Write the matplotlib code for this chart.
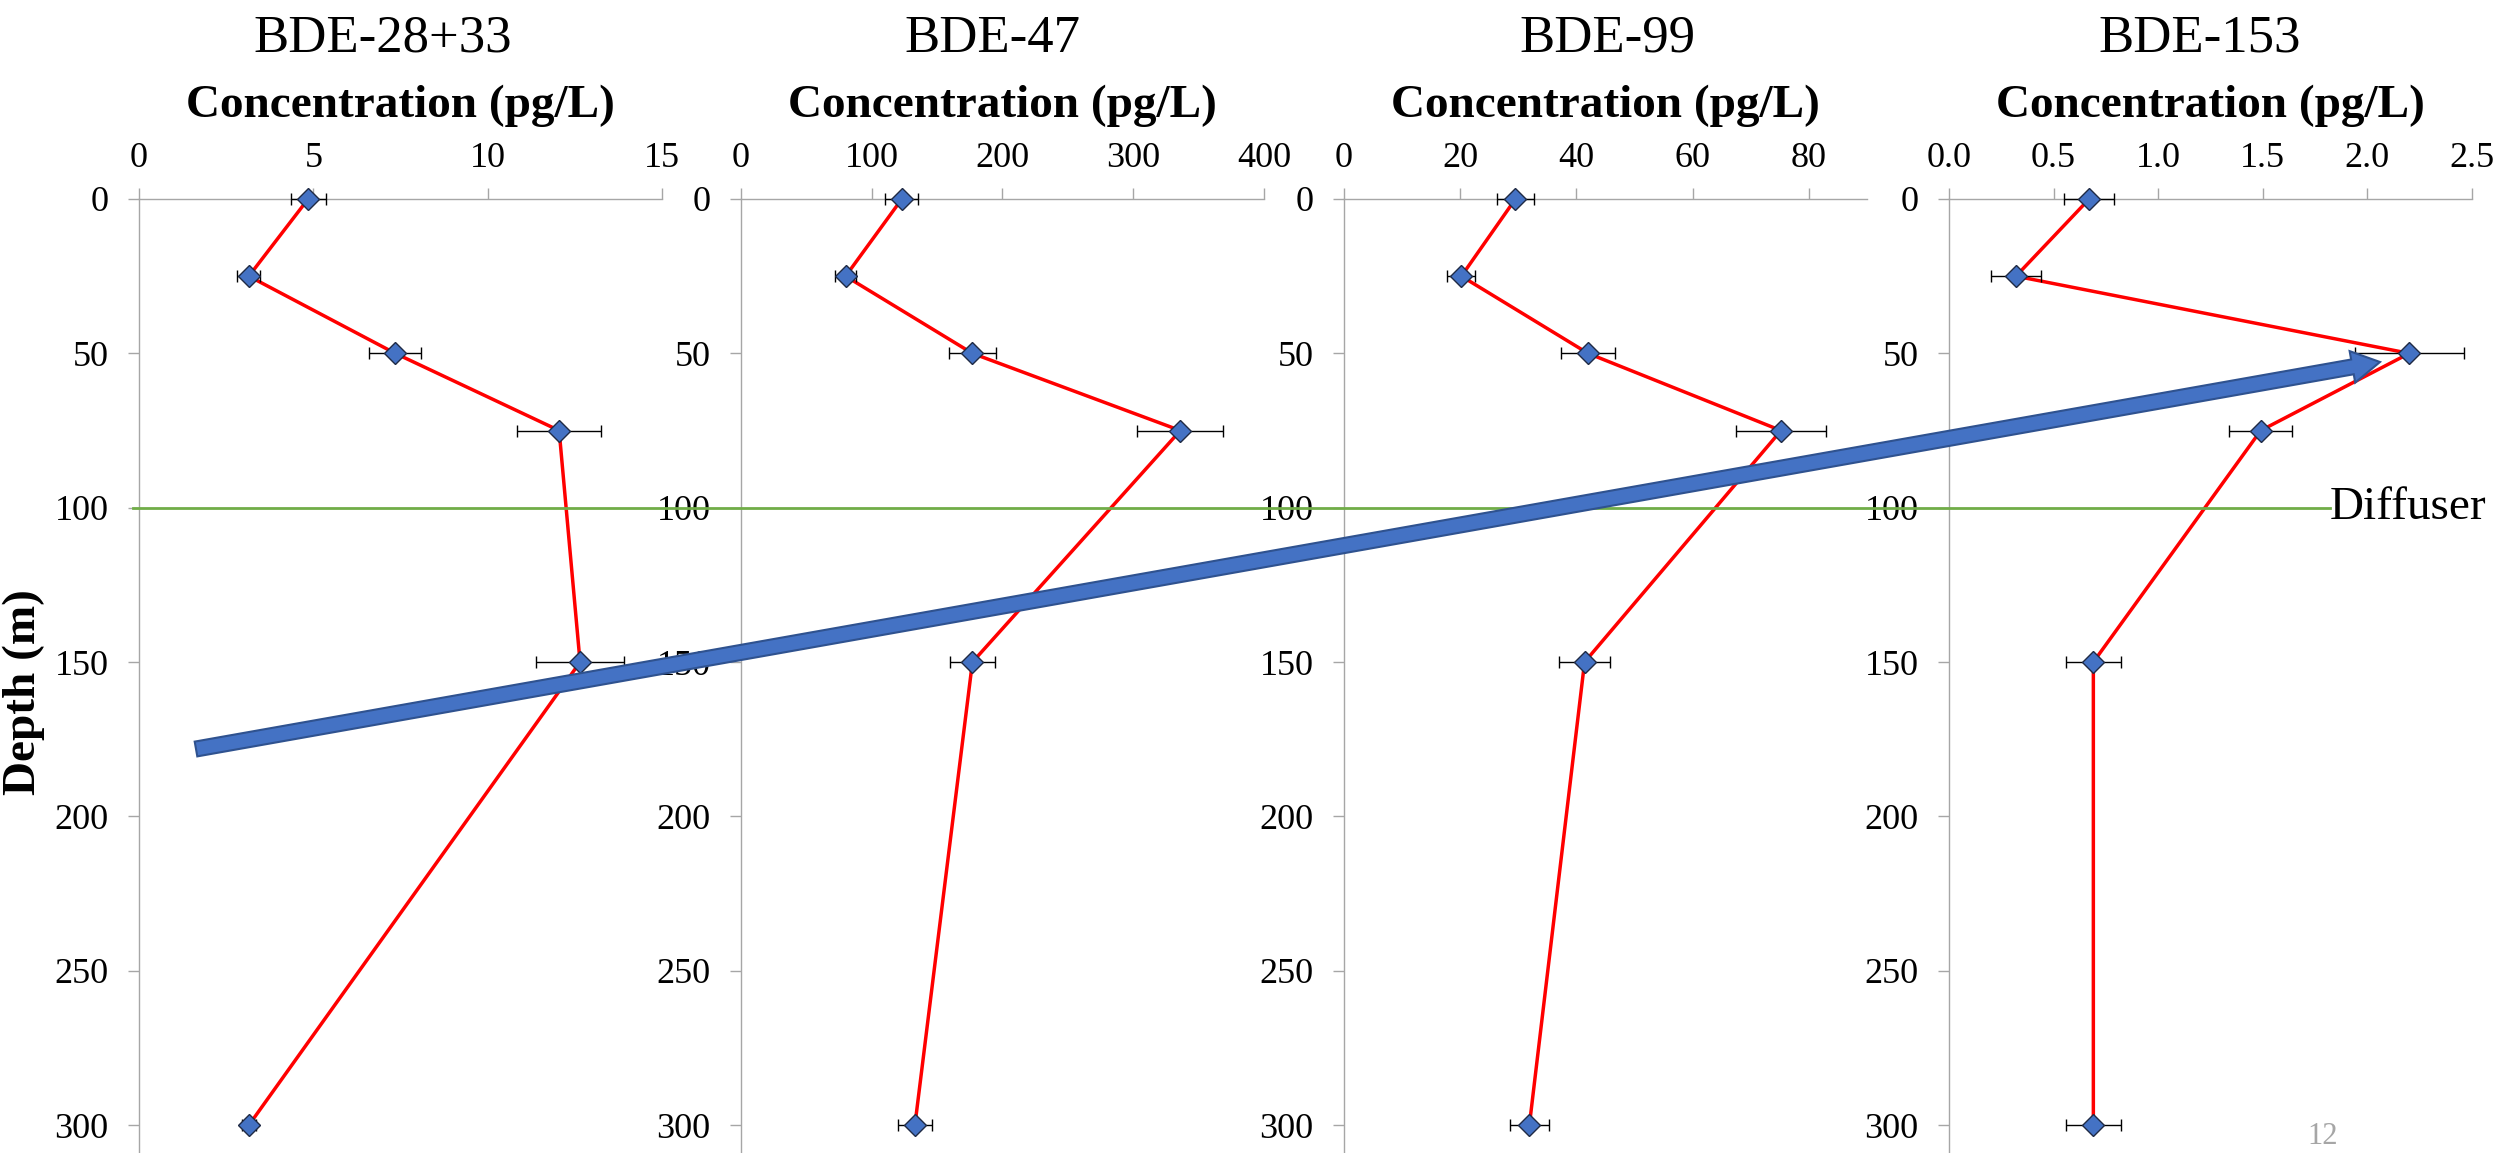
import matplotlib
matplotlib.use('Agg')
import matplotlib.pyplot as plt
from matplotlib.patches import FancyArrow
from matplotlib.transforms import blended_transform_factory

plt.rcParams['font.family'] = ['Liberation Serif', 'DejaVu Serif']

# data
depth = [0, 25, 50, 75, 150, 300]
titles = ['BDE-28+33', 'BDE-47', 'BDE-99', 'BDE-153']

bde28_33 = [4.85, 3.15, 7.35, 12.05, 12.65, 3.15]
bde28_33_err = [0.5, 0.33, 0.75, 1.2, 1.25, 0.2]
bde47 = [123, 80, 177, 336, 177, 133]
bde47_err = [12.5, 8, 18, 33, 17, 13]
bde99 = [29.5, 20.2, 42.0, 75.2, 41.4, 31.9]
bde99_err = [3.2, 2.4, 4.6, 7.7, 4.4, 3.4]
bde153 = [0.67, 0.32, 2.2, 1.49, 0.69, 0.69]
bde153_err = [0.12, 0.12, 0.26, 0.15, 0.13, 0.13]

x_max = [15, 400, 90, 2.5]
x_ticks = [[0, 5, 10, 15], [0, 100, 200, 300, 400],
           [0, 20, 40, 60, 80], [0, 0.5, 1.0, 1.5, 2.0, 2.5]]
y_ticks = [0, 50, 100, 150, 200, 250, 300]
diffuser_depth = 100

series = [(bde28_33, bde28_33_err), (bde47, bde47_err),
          (bde99, bde99_err), (bde153, bde153_err)]

# layout (figure pixels, measured from top-left)
W, H = 2509, 1153
panel_left = [139, 741, 1344, 1949]
panel_w = 523
panel_top = 199
title_x = [383, 992, 1607, 2200]

fig = plt.figure(figsize=(W / 100, H / 100), dpi=100)
fig.patch.set_facecolor('white')

axes = []
for i, (vals, errs) in enumerate(series):
    ax = fig.add_axes([panel_left[i] / W, 0, panel_w / W, (H - panel_top) / H])
    ax.plot(vals, depth, color='red', lw=2.5, zorder=2, clip_on=False)
    ax.errorbar(vals, depth, xerr=errs, fmt='none', ecolor='black',
                elinewidth=1, capsize=4.5, capthick=1, zorder=3, clip_on=False)
    ax.plot(vals, depth, 'D', ms=11, mfc='#4472C4', mec='#1F2A44', mew=1,
            zorder=4, clip_on=False)
    ax.set_xlim(0, x_max[i])
    ax.set_ylim(309, 0)
    ax.set_xticks(x_ticks[i])
    if i == 3:
        ax.set_xticklabels(['%.1f' % t for t in x_ticks[i]])
    ax.set_yticks(y_ticks)
    ax.xaxis.tick_top()
    for s in ['right', 'bottom']:
        ax.spines[s].set_visible(False)
    for s in ['top', 'left']:
        ax.spines[s].set_color('#A6A6A6')
        ax.spines[s].set_linewidth(1)
    ax.tick_params(axis='x', direction='out', length=8, width=1,
                   color='#A6A6A6', labelsize=26, pad=9)
    ax.tick_params(axis='y', direction='out', length=8, width=1,
                   color='#A6A6A6', labelsize=26, pad=14)
    ax.patch.set_alpha(0)
    axes.append(ax)

    cx = (panel_left[i] + panel_w / 2) / W
    fig.text(cx, 1 - 117 / H, 'Concentration (pg/L)', fontsize=34,
             fontweight='bold', ha='center', va='baseline')
    fig.text(title_x[i] / W, 1 - 52 / H, titles[i], fontsize=38,
             ha='center', va='baseline')

fig.text(24 / W, 1 - 692 / H, 'Depth (m)', fontsize=34, fontweight='bold',
         rotation=90, ha='center', va='center')

# overlay in pixel units for the annotation shapes
ov = fig.add_axes([0, 0, 1, 1], zorder=10)
ov.set_xlim(0, W)
ov.set_ylim(H, 0)
ov.axis('off')
ov.patch.set_alpha(0)

# diffuser line across all panels
tr = blended_transform_factory(ov.transData, axes[0].transData)
ov.plot([133, 2330], [diffuser_depth, diffuser_depth], color='#70AD47',
        lw=2, transform=tr, zorder=1)
ov.text(2330, diffuser_depth, 'Diffuser', fontsize=34, ha='left',
        va='center', transform=tr)

# big blue arrow
arrow = FancyArrow(196, 749, 2184, -387, width=15, head_width=32,
                   head_length=28, length_includes_head=True,
                   fc='#4472C4', ec='#2F528F', lw=1.5, zorder=5)
ov.add_patch(arrow)

# page number
fig.text(2323 / W, 1 - 1122 / H, '12', fontsize=22, color='#A6A6A6',
         ha='center', va='top')

plt.savefig('out.png', dpi=100, facecolor='white')
plt.close()
